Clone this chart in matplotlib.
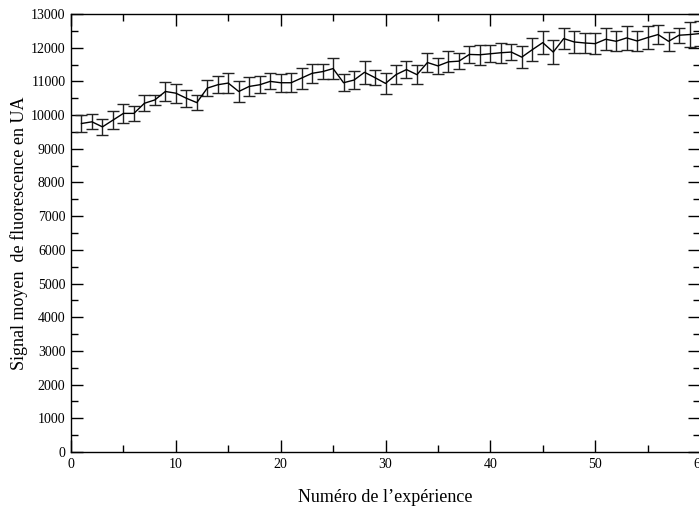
import numpy as np
import matplotlib.pyplot as plt
from matplotlib.ticker import MultipleLocator

# numéro de l'expérience
experience = list(range(1, 61))

# signal moyen (UA)
signal = [9750, 9800, 9650, 9850, 10050, 10050, 10350, 10450, 10700, 10650,
          10500, 10370, 10800, 10900, 10950, 10700, 10850, 10900, 11000, 10960,
          10960, 11100, 11240, 11290, 11380, 10960, 11040, 11270, 11110, 10940,
          11200, 11350, 11200, 11560, 11460, 11580, 11600, 11800, 11790, 11820,
          11850, 11870, 11720, 11940, 12150, 11870, 12270, 12170, 12140, 12120,
          12250, 12190, 12290, 12200, 12300, 12390, 12190, 12370, 12390, 12420]

# écart (barres d'erreur)
erreur = [262, 223, 232, 262, 287, 223, 232, 158, 272, 287,
          257, 232, 247, 257, 307, 321, 272, 252, 237, 272,
          277, 312, 282, 228, 321, 257, 262, 346, 223, 307,
          272, 257, 282, 282, 247, 312, 228, 262, 298, 259,
          294, 234, 328, 348, 333, 358, 308, 323, 298, 308,
          333, 294, 358, 298, 343, 274, 289, 224, 363, 383]

plt.rcParams['font.family'] = ['Liberation Serif', 'DejaVu Serif']

fig = plt.figure(figsize=(6.99, 5.14), dpi=100)
ax = fig.add_axes([71 / 699, 62 / 514, 629 / 699, 438 / 514])

ax.errorbar(experience, signal, yerr=erreur, color='black', lw=1.0,
            elinewidth=1.0, capsize=4.3, capthick=1.0, ecolor='#222222')

ax.set_xlim(0, 60)
ax.set_ylim(0, 13000)
ax.xaxis.set_major_locator(MultipleLocator(10))
ax.xaxis.set_minor_locator(MultipleLocator(5))
ax.yaxis.set_major_locator(MultipleLocator(1000))
ax.yaxis.set_minor_locator(MultipleLocator(500))
ax.tick_params(which='both', direction='in', top=True, right=True,
               labelsize=10, width=1.0)
ax.tick_params(which='major', length=8.6, pad=4)
ax.tick_params(which='minor', length=4.8)
for s in ax.spines.values():
    s.set_linewidth(1.0)

ax.set_xlabel("Numéro de l\u2019expérience", fontsize=13, labelpad=13)
ax.set_ylabel("Signal moyen  de fluorescence en UA", fontsize=13, labelpad=2)

fig.savefig("out.png", dpi=100)
